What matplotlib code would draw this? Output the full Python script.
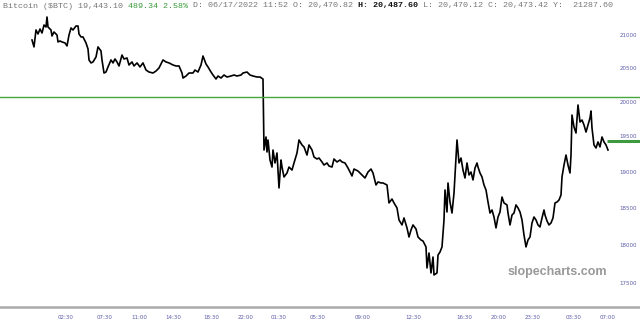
import matplotlib
matplotlib.use("Agg")
import matplotlib.pyplot as plt
import matplotlib.transforms as mtransforms

# bar position (chart units) and close price
bars = [32, 34, 36, 38, 40, 42, 44, 46, 47, 48, 51, 52, 54, 57, 58, 60, 62, 65, 67, 69,
        71, 73, 76, 78, 79, 81, 83, 86, 88, 89, 91, 93, 96, 98, 101, 102, 104, 106, 108, 111,
        113, 115, 117, 119, 122, 124, 127, 129, 132, 134, 137, 140, 143, 146, 149, 153, 156, 159, 163, 166,
        169, 173, 176, 179, 182, 183, 186, 189, 193, 195, 198, 201, 203, 206, 208, 211, 213, 216, 218, 221,
        224, 227, 231, 234, 237, 241, 243, 247, 250, 253, 257, 260, 263, 264, 266, 267, 268, 270, 272, 273,
        275, 277, 279, 281, 282, 284, 287, 289, 292, 294, 297, 299, 302, 304, 307, 309, 312, 314, 317, 319,
        322, 324, 327, 329, 332, 334, 337, 340, 342, 345, 348, 352, 354, 358, 362, 365, 368, 371, 373, 376,
        378, 381, 383, 387, 389, 392, 394, 397, 399, 402, 404, 407, 409, 411, 413, 416, 418, 421, 423, 426,
        427, 429, 431, 433, 434, 437, 438, 440, 442, 444, 445, 447, 448, 450, 452, 454, 457, 459, 461, 463,
        465, 467, 469, 471, 473, 475, 477, 478, 480, 482, 484, 486, 488, 490, 492, 494, 496, 498, 500, 502,
        504, 507, 508, 510, 512, 514, 516, 518, 520, 522, 524, 526, 528, 530, 532, 534, 536, 538, 540, 542,
        544, 545, 547, 549, 551, 553, 555, 557, 559, 561, 562, 564, 566, 568, 570, 571, 572, 574, 576, 578,
        580, 582, 584, 586, 588, 590, 591, 592, 594, 596, 598, 600, 602, 604, 606, 608]

price = [20938, 20832, 21093, 21031, 21108, 21046, 21170, 21139, 21295, 21139, 21093, 21000, 21062, 21015, 20908, 20923, 20908, 20893, 20847, 21015,
         21124, 21093, 21155, 21155, 21031, 20985, 20985, 20893, 20801, 20633, 20588, 20603, 20678, 20832, 20770, 20633, 20436, 20451, 20527, 20633,
         20588, 20648, 20603, 20542, 20708, 20648, 20663, 20557, 20603, 20542, 20588, 20527, 20588, 20481, 20451, 20436, 20466, 20512, 20633, 20603,
         20588, 20557, 20542, 20542, 20436, 20361, 20391, 20436, 20436, 20481, 20451, 20557, 20693, 20572, 20527, 20451, 20406, 20346, 20391, 20361,
         20406, 20376, 20391, 20406, 20391, 20406, 20436, 20451, 20406, 20391, 20376, 20376, 20346, 19311, 19497, 19283, 19454, 19170, 19071, 19311,
         19128, 19269, 18780, 19170, 19071, 18932, 18988, 19071, 19029, 19128, 19269, 19454, 19383, 19355, 19240, 19383, 19311, 19212, 19184, 19198,
         19142, 19099, 19128, 19085, 19071, 19184, 19142, 19170, 19142, 19128, 19057, 18946, 19043, 19015, 18960, 18918, 19001, 19043, 18988, 18821,
         18863, 18849, 18849, 18821, 18574, 18628, 18574, 18506, 18343, 18276, 18370, 18236, 18115, 18208, 18276, 18222, 18115, 18075, 18061, 17983,
         17707, 17903, 17642, 17850, 17616, 17642, 17876, 17916, 17983, 18343, 18752, 18451, 18849, 18587, 18437, 18710, 19454, 19128, 19198, 19029,
         18918, 19128, 18960, 19001, 18891, 19057, 19128, 19071, 18988, 18932, 18821, 18752, 18587, 18437, 18478, 18383, 18236, 18383, 18451, 18655,
         18574, 18547, 18437, 18276, 18410, 18437, 18547, 18506, 18451, 18343, 18141, 17983, 18075, 18115, 18303, 18383, 18343, 18276, 18249, 18370,
         18478, 18410, 18330, 18276, 18303, 18370, 18574, 18587, 18614, 18683, 18932, 19099, 19240, 19099, 18988, 19240, 19814, 19641, 19554, 19961,
         19713, 19742, 19670, 19568, 19670, 19771, 19873, 19626, 19383, 19340, 19426, 19355, 19497, 19426, 19383, 19311]

level_price = 20080
last_price = 19443.10

ytick_vals = [21000, 20500, 20000, 19500, 19000, 18500, 18000, 17500]
xtick_pos = [66, 105, 139, 173, 211, 246, 279, 318, 363, 413, 464, 499, 533, 574, 608]
xtick_labels = ["02:30", "07:30", "11:00", "14:30", "18:30", "22:00", "01:30", "05:30", "09:00",
                "12:30", "16:30", "20:00", "23:30", "03:30", "07:00"]

header = [("Bitcoin ($BTC) 19,443.10 ", "#777777", "normal"),
          ("489.34 2.58% ", "#3a9a3a", "normal"),
          ("D: 06/17/2022 11:52 O: 20,470.82 ", "#777777", "normal"),
          ("H: 20,487.60 ", "#111111", "bold"),
          ("L: 20,470.12 C: 20,473.42 Y:  21287.60", "#777777", "normal")]

fig = plt.figure(figsize=(6.4, 3.3), dpi=100)
ax = fig.add_axes([0, 23 / 330, 1, 307 / 330])

ax.plot(bars, price, color="black", lw=1.2)
ax.axhline(level_price, color="#46a83c", lw=1.0)
ax.plot([607, 640], [last_price, last_price], color="#3f9a3f", lw=2.2, solid_capstyle="butt")

ax.set_yscale("log")
ax.set_ylim(17206, 21563)
ax.set_xlim(0, 640)

ax.minorticks_off()
ax.set_yticks([])
ax.set_yticks([], minor=True)
trans = mtransforms.blended_transform_factory(ax.transAxes, ax.transData)
for v in ytick_vals:
    ax.text(628 / 640, v, str(v), transform=trans, ha="center", va="center",
            fontsize=4, color="#5c5ca8")

ax.set_xticks(xtick_pos)
ax.set_xticklabels(xtick_labels)
ax.tick_params(axis="x", length=0, pad=6, labelsize=4, labelcolor="#5c5ca8")

for s in ["top", "left", "right"]:
    ax.spines[s].set_visible(False)
ax.spines["bottom"].set_color("#aaaaaa")
ax.spines["bottom"].set_linewidth(1.8)

fig.text(557 / 640, 1 - 272 / 330, "slopecharts.com", ha="center", va="center",
         fontsize=9, fontweight="bold", color="#999999", family="Liberation Sans")

# header line, monospace so each char is 5 px wide
n = 0
for txt, col, wt in header:
    fig.text((3 + n * 5) / 640, 1 - 6 / 330, txt, ha="left", va="center", fontsize=6,
             family="Liberation Mono", color=col, fontweight=wt)
    n += len(txt)

fig.savefig("out.png", dpi=100)
